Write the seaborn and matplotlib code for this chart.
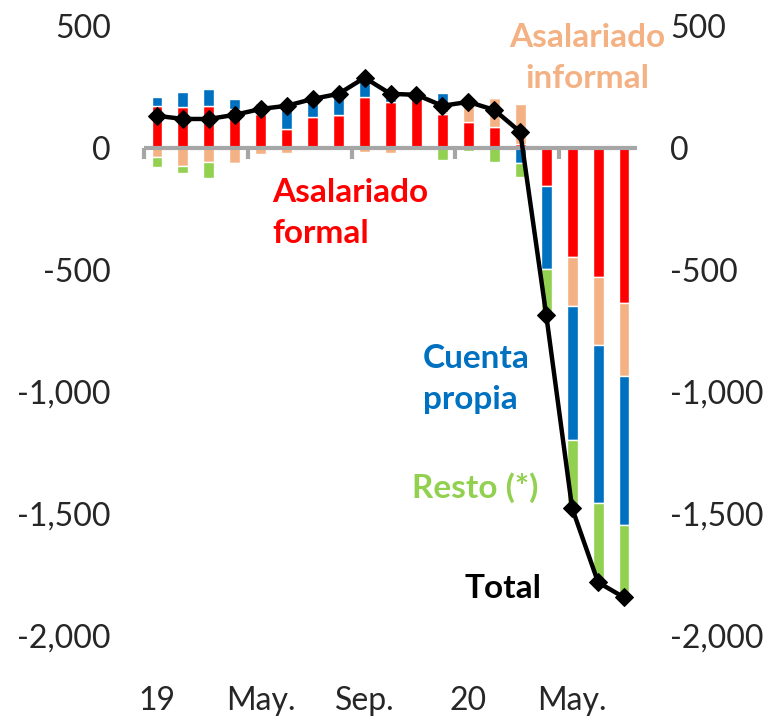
import numpy as np
import matplotlib
matplotlib.use("Agg")
import matplotlib.pyplot as plt
import seaborn as sns

# monthly changes (thousands), Jan 2019 - Jul 2020
months = ["Ene.19", "Feb.", "Mar.", "Abr.", "May.", "Jun.", "Jul.", "Ago.", "Sep.", "Oct.",
          "Nov.", "Dic.", "Ene.20", "Feb.", "Mar.", "Abr.", "May.", "Jun.", "Jul."]
formal = [171, 168, 173, 159, 141, 78, 127, 136, 210, 189, 212, 139, 106, 85, 15, -156, -446, -527, -634]
informal = [-36, -75, -58, -62, -25, -19, -3, 0, -15, -19, 20, 10, 95, 118, 165, 0, -202, -280, -300]
propia = [40, 60, 68, 43, 22, 106, 82, 90, 80, 50, -8, 78, 3, 7, -62, -340, -548, -649, -612]
resto = [-41, -28, -64, -3, 22, 8, -3, -5, 17, 3, -6, -51, -12, -59, -55, -184, -276, -329, -295]
total = [132, 119, 119, 136, 160, 173, 201, 222, 288, 222, 218, 173, 189, 156, 66, -683, -1476, -1780, -1842]

tick_pos = [0, 4, 8, 12, 16]
tick_labels = ["19", "May.", "Sep.", "20", "May."]

series = [("Asalariado formal", formal, "#FF0000"),
          ("Asalariado informal", informal, "#F4B183"),
          ("Cuenta propia", propia, "#0070C0"),
          ("Resto (*)", resto, "#92D050")]

sns.set_style("white")
plt.rcParams['font.family'] = ['Lato', 'DejaVu Sans']

fig = plt.figure(figsize=(7.74, 7.16), dpi=100)
ax = fig.add_axes([144 / 774, 1 - 636 / 716, 493 / 774, 610 / 716])

x = np.arange(len(months))
pos_base = np.zeros(len(months))
neg_base = np.zeros(len(months))
for name, vals, col in series:
    v = np.array(vals, dtype=float)
    bottom = np.where(v >= 0, pos_base, neg_base)
    ax.bar(x, v, bottom=bottom, width=0.42, color=col, zorder=2)
    pos_base += np.clip(v, 0, None)
    neg_base += np.clip(v, None, 0)

# zero axis with category ticks
ax.axhline(0, color="#A6A6A6", lw=3, zorder=3)
ax.vlines(np.arange(-0.5, 18, 4), -45, 0, color="#A6A6A6", lw=3, zorder=3, clip_on=False)

sns.lineplot(x=x, y=total, color="black", marker="D", markersize=9, linewidth=3.2,
             markeredgecolor="black", ax=ax, zorder=5, legend=False)

ax.set_xlim(-0.5, 18.5)
ax.set_ylim(-2000, 500)
ax.set_yticks([500, 0, -500, -1000, -1500, -2000])
ax.set_yticklabels(["500", "0", "-500", "-1,000", "-1,500", "-2,000"])
ax.set_xticks(tick_pos)
ax.set_xticklabels(tick_labels)
ax.tick_params(axis="y", length=0, pad=24, labelsize=23, labelright=True)
ax.tick_params(axis="x", length=0, pad=36, labelsize=23)
for s in ax.spines.values():
    s.set_visible(False)
if ax.get_legend() is not None:
    ax.get_legend().remove()

txt = dict(fontsize=24, fontweight="bold", linespacing=1.5)
ax.text(4.45, -268, "Asalariado\nformal", color="#FF0000", ha="left", va="center", **txt)
ax.text(16.6, 368, "Asalariado\ninformal", color="#F4B183", ha="center", va="center", **txt)
ax.text(10.25, -948, "Cuenta\npropia", color="#0070C0", ha="left", va="center", **txt)
ax.text(9.83, -1392, "Resto (*)", color="#92D050", ha="left", va="center", **txt)
ax.text(11.87, -1805, "Total", color="black", ha="left", va="center", **txt)

fig.savefig("out.png", dpi=100)
